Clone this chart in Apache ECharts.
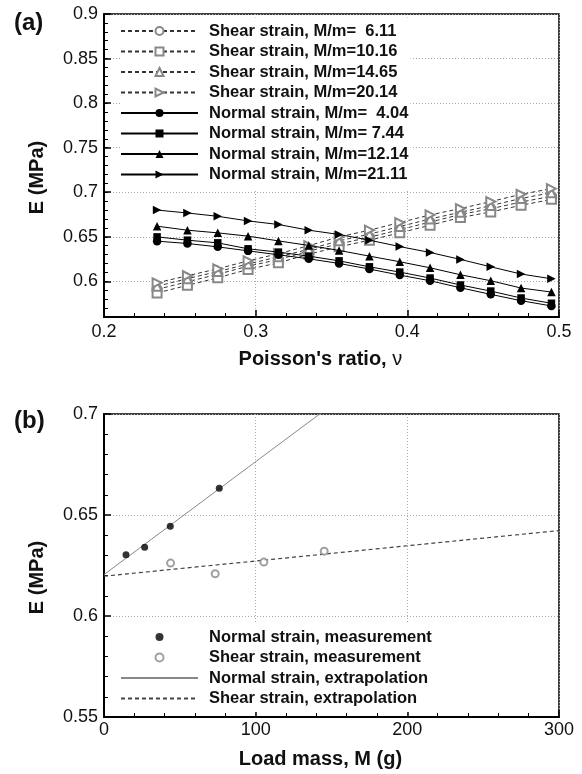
<!DOCTYPE html>
<html>
<head>
<meta charset="utf-8">
<script src="https://cdn.jsdelivr.net/npm/echarts@6/dist/echarts.min.js"></script>
<style>
  body { margin: 0; background: #fff; }
  #chart { width: 582px; height: 774px; }
</style>
</head>
<body>
<div id="chart"></div>
<script>
// panel (a): E vs Poisson's ratio
const poisson = [0.235, 0.255, 0.275, 0.295, 0.315, 0.335, 0.355, 0.375, 0.395, 0.415, 0.435, 0.455, 0.475, 0.495]

const shear611 = [0.5910, 0.5995, 0.6080, 0.6170, 0.6245, 0.6340, 0.6420, 0.6495, 0.6580, 0.6665, 0.6750, 0.6815, 0.6890, 0.6955]
const shear1016 = [0.5870, 0.5955, 0.6040, 0.6134, 0.6208, 0.6305, 0.6387, 0.6462, 0.6544, 0.6630, 0.6716, 0.6779, 0.6853, 0.6920]
const shear1465 = [0.5945, 0.6030, 0.6110, 0.6195, 0.6275, 0.6360, 0.6455, 0.6530, 0.6615, 0.6700, 0.6775, 0.6850, 0.6930, 0.6995]
const shear2014 = [0.5984, 0.6063, 0.6141, 0.6230, 0.6310, 0.6400, 0.6499, 0.6574, 0.6660, 0.6745, 0.6817, 0.6895, 0.6977, 0.7040]

const normal404 = [0.6451, 0.6425, 0.6387, 0.6342, 0.6298, 0.6253, 0.6201, 0.6138, 0.6070, 0.6007, 0.5928, 0.5854, 0.5783, 0.5724]
const normal744 = [0.6499, 0.6462, 0.6432, 0.6365, 0.6328, 0.6283, 0.6230, 0.6163, 0.6104, 0.6037, 0.5959, 0.5891, 0.5813, 0.5754]
const normal1214 = [0.6619, 0.6574, 0.6544, 0.6507, 0.6454, 0.6403, 0.6347, 0.6283, 0.6220, 0.6152, 0.6074, 0.6007, 0.5925, 0.5880]
const normal2111 = [0.6800, 0.6767, 0.6730, 0.6678, 0.6638, 0.6574, 0.6526, 0.6462, 0.6390, 0.6324, 0.6246, 0.6163, 0.6082, 0.6029]

const yTicksA = [0.6, 0.65, 0.7, 0.75, 0.8, 0.85, 0.9]

// panel (b): E vs load mass
const normMass = [14.5, 26.8, 43.7, 76.0]
const normE = [0.6303, 0.6340, 0.6444, 0.6633]
const shearMass = [43.9, 73.3, 105.4, 145.2]
const shearE = [0.6262, 0.6209, 0.6267, 0.6321]
const normFitMass = [0, 300]
const normFitE = [0.6205, 0.7882]
const shearFitMass = [0, 300]
const shearFitE = [0.6197, 0.6423]

const FONT = '"Liberation Sans", Arial, sans-serif'

const pairs = (xs, ys) => xs.map((x, i) => [x, ys[i]])

const shearLine = (name, ys, symbol, rotate) => ({
    name: name,
    type: 'line',
    xAxisIndex: 0,
    yAxisIndex: 0,
    data: pairs(poisson, ys),
    symbol: symbol,
    symbolSize: 9,
    symbolRotate: rotate || 0,
    lineStyle: { color: '#333', width: 1, type: [4, 3] },
    itemStyle: { color: '#888', borderWidth: 1 },
    z: 2
})

const normalLine = (name, ys, symbol, rotate) => ({
    name: name,
    type: 'line',
    xAxisIndex: 0,
    yAxisIndex: 0,
    data: pairs(poisson, ys),
    symbol: symbol,
    symbolSize: symbol === 'rect' ? 7.5 : 8.5,
    symbolRotate: rotate || 0,
    lineStyle: { color: '#000', width: 1 },
    itemStyle: { color: '#000' },
    z: 3
})

const gridLine = { show: true, lineStyle: { color: '#aaa', type: [1, 2], width: 1 } }
const axisLine = { show: true, onZero: false, lineStyle: { color: '#000', width: 2 } }
const labelStyle = { color: '#111', fontSize: 18, fontFamily: FONT }
const nameStyle = { color: '#111', fontSize: 20, fontWeight: 'bold', fontFamily: FONT }
const legendText = { fontSize: 16.5, fontWeight: 'bold', fontFamily: FONT, color: '#111', lineHeight: 14, padding: [0, 0, 0, 6] }
const panelTag = { fontSize: 24, fontWeight: 'bold', fontFamily: FONT, color: '#111' }

const chart = echarts.init(document.getElementById('chart'))

const option = {
    animation: false,
    backgroundColor: '#fff',
    title: [
        { text: '(a)', left: 14, top: 11, padding: 0, textStyle: panelTag },
        { text: '(b)', left: 14, top: 409, padding: 0, textStyle: panelTag }
    ],
    grid: [
        { left: 104, top: 14, width: 455, height: 303, show: true, borderColor: '#000', borderWidth: 1.5, outerBoundsMode: 'none' },
        { left: 104, top: 414, width: 455, height: 303, show: true, borderColor: '#000', borderWidth: 1.5, outerBoundsMode: 'none' }
    ],
    legend: [
        {
            orient: 'vertical',
            left: 120,
            top: 17.5,
            padding: [5, 2, 8, 0],
            backgroundColor: '#fff',
            itemWidth: 77,
            itemHeight: 10,
            itemGap: 3.5,
            selectedMode: false,
            textStyle: legendText,
            data: [
                'Shear strain, M/m=  6.11', 'Shear strain, M/m=10.16', 'Shear strain, M/m=14.65', 'Shear strain, M/m=20.14',
                'Normal strain, M/m=  4.04', 'Normal strain, M/m= 7.44', 'Normal strain, M/m=12.14', 'Normal strain, M/m=21.11'
            ]
        },
        {
            orient: 'vertical',
            left: 120,
            top: 623.5,
            padding: [5, 2, 5, 0],
            backgroundColor: '#fff',
            itemWidth: 77,
            itemHeight: 8,
            itemGap: 3.5,
            selectedMode: false,
            textStyle: legendText,
            data: ['Normal strain, measurement', 'Shear strain, measurement', 'Normal strain, extrapolation', 'Shear strain, extrapolation']
        }
    ],
    xAxis: [
        {
            gridIndex: 0, type: 'value', min: 0.2, max: 0.5, interval: 0.1,
            name: "{b|Poisson's ratio, }{n|\u03bd    }", nameLocation: 'middle', nameGap: 32,
            nameTextStyle: Object.assign({}, nameStyle, {
                rich: {
                    b: { fontSize: 20, fontWeight: 'bold', fontFamily: FONT, color: '#111' },
                    n: { fontSize: 20, fontWeight: 'normal', fontFamily: FONT, color: '#111' }
                }
            }),
            axisLine: axisLine,
            axisTick: { show: true, inside: true, length: 7, lineStyle: { color: '#000', width: 1.5 } },
            minorTick: { show: true, splitNumber: 5, length: 4, lineStyle: { color: '#000', width: 1 } },
            axisLabel: Object.assign({ margin: 6, showMinLabel: true, showMaxLabel: true }, labelStyle),
            splitLine: gridLine
        },
        {
            gridIndex: 1, type: 'value', min: 0, max: 300, interval: 100,
            name: 'Load mass, M (g)    ', nameLocation: 'middle', nameGap: 32,
            nameTextStyle: nameStyle,
            axisLine: axisLine,
            axisTick: { show: true, inside: true, length: 7, lineStyle: { color: '#000', width: 1.5 } },
            minorTick: { show: true, splitNumber: 5, length: 4, lineStyle: { color: '#000', width: 1 } },
            axisLabel: Object.assign({ margin: 4, showMinLabel: true, showMaxLabel: true }, labelStyle),
            splitLine: gridLine
        }
    ],
    yAxis: [
        {
            gridIndex: 0, type: 'value', min: 0.56, max: 0.9, position: 'left',
            name: 'E (MPa)', nameLocation: 'middle', nameGap: 57,
            nameTextStyle: Object.assign({}, nameStyle, { padding: [0, 24, 0, 0] }),
            axisLine: axisLine,
            axisTick: { show: true, inside: true, length: 7, customValues: yTicksA, lineStyle: { color: '#000', width: 1.5 } },
            axisLabel: Object.assign({ margin: 6, customValues: yTicksA, formatter: v => String(+v.toFixed(2)) }, labelStyle),
            splitLine: gridLine
        },
        {
            // minor ticks for panel (a), every 0.01
            gridIndex: 0, type: 'value', min: 0.56, max: 0.9, interval: 0.01, position: 'left', offset: 0,
            axisLine: { show: false },
            axisTick: { show: true, inside: true, length: 4, lineStyle: { color: '#000', width: 1 } },
            axisLabel: { show: false },
            splitLine: { show: false }
        },
        {
            gridIndex: 1, type: 'value', min: 0.55, max: 0.7, interval: 0.05,
            name: 'E (MPa)', nameLocation: 'middle', nameGap: 57,
            nameTextStyle: Object.assign({}, nameStyle, { padding: [0, 24, 0, 0] }),
            axisLine: axisLine,
            axisTick: { show: true, inside: true, length: 7, lineStyle: { color: '#000', width: 1.5 } },
            minorTick: { show: true, splitNumber: 5, length: 4, lineStyle: { color: '#000', width: 1 } },
            axisLabel: Object.assign({ margin: 6, showMinLabel: true, showMaxLabel: true }, labelStyle),
            splitLine: gridLine
        }
    ],
    series: [
        shearLine('Shear strain, M/m=  6.11', shear611, 'emptyCircle'),
        shearLine('Shear strain, M/m=10.16', shear1016, 'emptyRect'),
        shearLine('Shear strain, M/m=14.65', shear1465, 'emptyTriangle'),
        shearLine('Shear strain, M/m=20.14', shear2014, 'emptyTriangle', -90),
        normalLine('Normal strain, M/m=  4.04', normal404, 'circle'),
        normalLine('Normal strain, M/m= 7.44', normal744, 'rect'),
        normalLine('Normal strain, M/m=12.14', normal1214, 'triangle'),
        normalLine('Normal strain, M/m=21.11', normal2111, 'triangle', -90),
        {
            name: 'Normal strain, measurement', type: 'scatter', xAxisIndex: 1, yAxisIndex: 2,
            data: pairs(normMass, normE), symbol: 'circle', symbolSize: 7,
            itemStyle: { color: '#000' }, z: 4
        },
        {
            name: 'Shear strain, measurement', type: 'scatter', xAxisIndex: 1, yAxisIndex: 2,
            data: pairs(shearMass, shearE), symbol: 'emptyCircle', symbolSize: 7,
            itemStyle: { color: '#888', borderWidth: 1 }, z: 4
        },
        {
            name: 'Normal strain, extrapolation', type: 'line', xAxisIndex: 1, yAxisIndex: 2,
            data: pairs(normFitMass, normFitE), symbol: 'none', clip: true,
            lineStyle: { color: '#888', width: 1 }, itemStyle: { color: 'rgba(0,0,0,0)' }, z: 3
        },
        {
            name: 'Shear strain, extrapolation', type: 'line', xAxisIndex: 1, yAxisIndex: 2,
            data: pairs(shearFitMass, shearFitE), symbol: 'none', clip: true,
            lineStyle: { color: '#444', width: 1.2, type: [4, 3] }, itemStyle: { color: 'rgba(0,0,0,0)' }, z: 3
        }
    ]
}

chart.setOption(option)
</script>
</body>
</html>
